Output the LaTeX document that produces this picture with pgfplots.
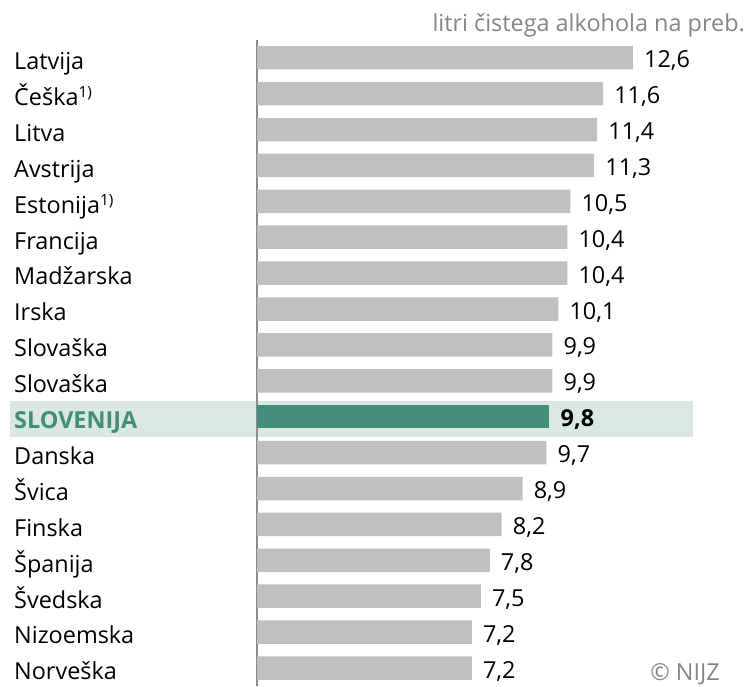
\documentclass[border=0pt]{standalone}
\usepackage{pgfplots}
\pgfplotsset{compat=1.18}
\usepackage{fontspec}
\setmainfont{Open Sans}
\definecolor{bargray}{HTML}{C0C0C0}
\definecolor{slogreen}{HTML}{428E78}
\definecolor{band}{HTML}{D9E8E3}
\definecolor{txtgray}{HTML}{858585}
\definecolor{axgray}{HTML}{8C8C8C}
\newcommand\lfont{\fontsize{23.5}{27}\selectfont}
\newcommand\fnsup[1]{\raisebox{7.5bp}{\fontsize{15.5}{18}\selectfont #1}}
\pgfplotstableread{
y x
0 12.6
1 11.6
2 11.4
3 11.3
4 10.5
5 10.4
6 10.4
7 10.1
8 9.9
9 9.9
11 9.7
12 8.9
13 8.2
14 7.8
15 7.5
16 7.2
17 7.2
}\others
\pgfplotstableread{
y x
10 9.8
}\slo
\begin{document}
\begin{tikzpicture}
\path (0,0) rectangle (747bp,685bp);
\fill[band] (10bp,248.3bp) rectangle (693bp,284bp);
\begin{axis}[
  at={(257bp,-0.95bp)}, anchor=south west,
  scale only axis, width=447.6bp, height=646.2bp,
  xmin=0, xmax=15, ymin=-0.5, ymax=17.5, y dir=reverse,
  clip=false,
  axis x line=none, axis y line=left,
  y axis line style={draw=axgray, line width=1.2pt, -},
  ytick={0,...,17}, major tick length=0pt,
  yticklabels={Latvija, {Češka\fnsup{1)}}, Litva, Avstrija, {Estonija\fnsup{1)}}, Francija, Madžarska, Irska, Slovaška, Slovaška, {\color{slogreen}\bfseries SLOVENIJA}, Danska, Švica, Finska, Španija, Švedska, Nizoemska, Norveška},
  yticklabel style={anchor=base west, xshift=-243bp, yshift=-11.8bp, font=\lfont, inner sep=0pt},
  xbar, bar width=23.5bp, bar shift=0pt,
  nodes near coords,
  /pgf/number format/.cd, use comma, fixed, fixed zerofill, precision=1, assume math mode=true,
  /pgfplots/.cd,
  nodes near coords style={anchor=base west, xshift=11bp, yshift=-10bp, inner sep=0pt, font=\lfont, text=black},
]
\addplot[fill=bargray, draw=none] table[x=x,y=y] {\others};
\addplot[fill=slogreen, draw=none, nodes near coords style={font=\lfont\bfseries}] table[x=x,y=y] {\slo};
\end{axis}
\node[anchor=base east, text=txtgray, font=\lfont, inner sep=0pt] at (745bp,653bp) {litri čistega alkohola na preb.};
\node[anchor=base east, text=txtgray, font=\lfont, inner sep=0pt] at (720bp,5bp) {© NIJZ};
\end{tikzpicture}
\end{document}
